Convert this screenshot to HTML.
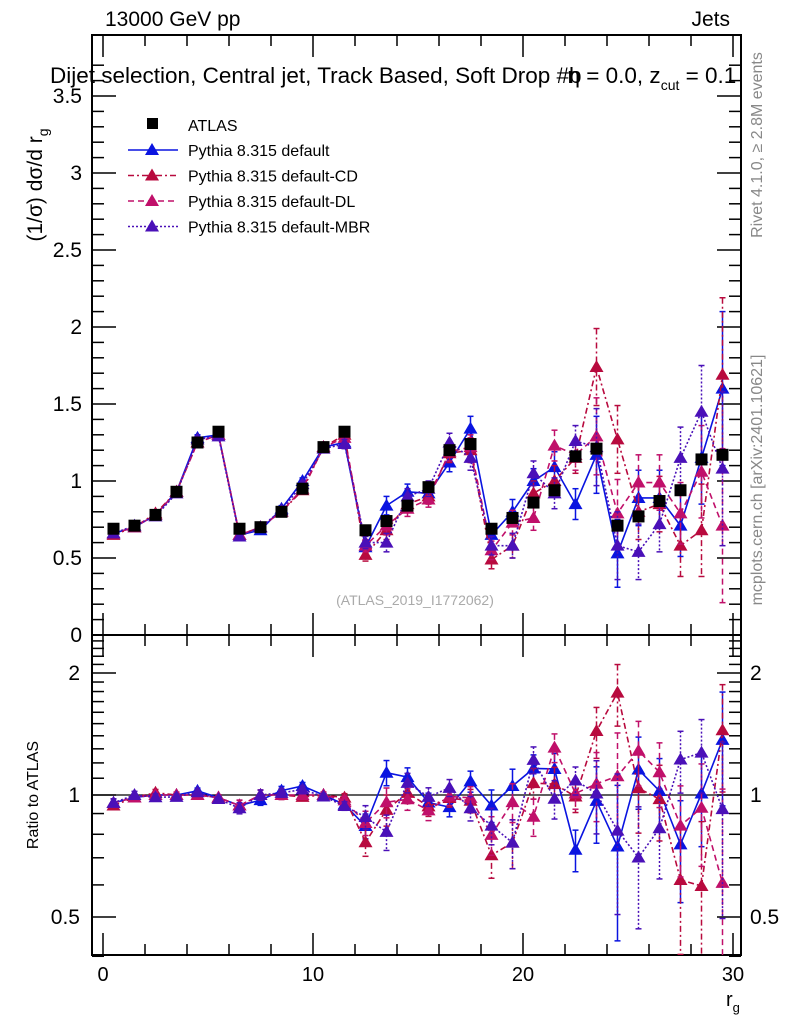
<!DOCTYPE html>
<html><head><meta charset="utf-8"><style>
html,body{margin:0;padding:0;background:#fff;overflow:hidden}
svg{display:block}
svg text{font-family:"Liberation Sans",sans-serif}
</style></head><body>
<svg id="c" width="786" height="1024" xmlns="http://www.w3.org/2000/svg"></svg>
<script>
const bins=[0.5,1.5,2.5,3.5,4.5,5.5,6.5,7.5,8.5,9.5,10.5,11.5,12.5,13.5,14.5,15.5,16.5,17.5,18.5,19.5,20.5,21.5,22.5,23.5,24.5,25.5,26.5,27.5,28.5,29.5];
const atlas=[0.69,0.71,0.78,0.93,1.25,1.32,0.69,0.70,0.80,0.95,1.22,1.32,0.68,0.74,0.84,0.96,1.20,1.24,0.69,0.76,0.86,0.94,1.16,1.21,0.71,0.77,0.87,0.94,1.14,1.17];
const atlasErr=[0.01,0.01,0.01,0.01,0.01,0.01,0.01,0.01,0.01,0.01,0.01,0.01,0.01,0.01,0.01,0.01,0.01,0.01,0.02,0.02,0.02,0.02,0.02,0.02,0.02,0.02,0.02,0.02,0.02,0.02];
const pyDefault=[0.66,0.70,0.78,0.93,1.28,1.30,0.65,0.68,0.82,1.00,1.22,1.25,0.57,0.84,0.93,0.92,1.12,1.34,0.65,0.80,1.00,1.09,0.85,1.17,0.53,0.89,0.89,0.71,1.15,1.60];
const pyCD=[0.65,0.70,0.79,0.93,1.25,1.30,0.65,0.70,0.80,0.94,1.22,1.30,0.52,0.68,0.85,0.90,1.18,1.20,0.49,0.58,0.92,1.00,1.15,1.74,1.27,0.80,0.85,0.58,0.68,1.69];
const pyDL=[0.66,0.70,0.78,0.93,1.25,1.30,0.65,0.70,0.80,0.95,1.22,1.28,0.58,0.71,0.82,0.88,1.19,1.22,0.55,0.73,0.76,1.23,1.17,1.29,0.79,0.99,0.99,0.79,1.06,0.71];
const pyMBR=[0.66,0.71,0.77,0.92,1.27,1.29,0.64,0.70,0.81,0.98,1.21,1.24,0.60,0.60,0.90,0.95,1.25,1.15,0.58,0.58,1.05,0.92,1.26,1.22,0.58,0.54,0.72,1.15,1.45,1.08];
const mcErr=[0.015,0.015,0.015,0.015,0.02,0.02,0.02,0.02,0.02,0.02,0.02,0.03,0.04,0.06,0.05,0.05,0.06,0.08,0.06,0.08,0.08,0.1,0.1,0.25,0.22,0.18,0.18,0.2,0.3,0.5];
const xTicks=[0,10,20,30];
const yTicks=[0,0.5,1,1.5,2,2.5,3,3.5];
const rTicks=[0.5,1,2];

const S=document.getElementById('c');const NS='http://www.w3.org/2000/svg';
function el(t,a,p){const e=document.createElementNS(NS,t);for(const k in a)e.setAttribute(k,a[k]);(p||S).appendChild(e);return e;}
const L=92,R=741,T=35,M=635,B=955;
const X=v=>103+v*21;
const Y=v=>635-v*154;
const YR=v=>795-Math.log2(v)*122;
const clipM=el('clipPath',{id:'cm'});el('rect',{x:L,y:T,width:R-L,height:M-T},clipM);
const clipR=el('clipPath',{id:'cr'});el('rect',{x:L,y:M,width:R-L,height:B-M},clipR);

function txt(x,y,s,o){const t=el('text',Object.assign({x:x,y:y,'font-size':19},o||{}));t.textContent=s;return t;}
let f=el('rect',{x:L,y:T,width:R-L,height:M-T,fill:'none',stroke:'#000','stroke-width':2});

f=el('rect',{x:L,y:M,width:R-L,height:B-M,fill:'none',stroke:'#000','stroke-width':2});

for(let v=0;v<=30;v+=2){const big=v%10==0;
 el('line',{x1:X(v),x2:X(v),y1:M,y2:M-(big?22:11),stroke:'#000','stroke-width':1.5});
 el('line',{x1:X(v),x2:X(v),y1:T,y2:T+(big?22:11),stroke:'#000','stroke-width':1.5});
 el('line',{x1:X(v),x2:X(v),y1:B,y2:B-(big?22:11),stroke:'#000','stroke-width':1.5});
 el('line',{x1:X(v),x2:X(v),y1:M,y2:M+(big?22:11),stroke:'#000','stroke-width':1.5});}
xTicks.forEach(v=>{const t=txt(X(v),981,String(v),{'text-anchor':'middle','font-size':20});
 });
for(let v=0;v<=3.75;v+=0.1){const y=Y(v);if(y<T)break;const big=Math.abs(v*2-Math.round(v*2))<1e-6;
 el('line',{x1:L,x2:L+(big?24:12),y1:y,y2:y,stroke:'#000','stroke-width':1.5});
 el('line',{x1:R,x2:R-(big?24:12),y1:y,y2:y,stroke:'#000','stroke-width':1.5});}
yTicks.forEach(v=>{const t=txt(82,Y(v)+7,String(v),{'text-anchor':'end','font-size':21});
 });
const rMinor=[0.4,0.5,0.6,0.7,0.8,0.9,1,1.1,1.2,1.3,1.4,1.5,1.6,1.7,1.8,1.9,2,2.1,2.2,2.3,2.4];
rMinor.forEach(v=>{const big=rTicks.includes(v);const y=YR(v);
 el('line',{x1:L,x2:L+(big?24:12),y1:y,y2:y,stroke:'#000','stroke-width':1.5});
 el('line',{x1:R,x2:R-(big?24:12),y1:y,y2:y,stroke:'#000','stroke-width':1.5});});
rTicks.forEach(v=>{let t=txt(80,YR(v)+7,String(v),{'text-anchor':'end','font-size':21});
 
 t=txt(750,YR(v)+7,String(v),{'font-size':21});
 });
el('line',{x1:L,x2:R,y1:YR(1),y2:YR(1),stroke:'#000','stroke-width':1.2});

const series=[
 {name:'pythia-default',vals:pyDefault,color:'#0a14e0',dash:'',label:'Pythia 8.315 default'},
 {name:'pythia-default-cd',vals:pyCD,color:'#b80a3e',dash:'6,3,2,3',label:'Pythia 8.315 default-CD'},
 {name:'pythia-default-dl',vals:pyDL,color:'#c0106a',dash:'6,4',label:'Pythia 8.315 default-DL'},
 {name:'pythia-default-mbr',vals:pyMBR,color:'#4a10b8',dash:'2,2',label:'Pythia 8.315 default-MBR'}];
function tri(g,x,y,c){el('polygon',{points:`${x},${y-7} ${x-7},${y+5} ${x+7},${y+5}`,fill:c},g);}
series.forEach(s=>{
 [[Y,'cm',v=>v,null],[YR,'cr',(v,i)=>v/atlas[i],1]].forEach(([yf,cl,tr,isR])=>{
  const g=el('g',{'clip-path':`url(#${cl})`});
  
  const pts=bins.map((b,i)=>X(b)+','+yf(tr(s.vals[i],i))).join(' ');
  el('polyline',{points:pts,fill:'none',stroke:s.color,'stroke-width':1.6,'stroke-dasharray':s.dash},g);
  bins.forEach((b,i)=>{const v=tr(s.vals[i],i);const e=isR?mcErr[i]/atlas[i]:mcErr[i];
   const y1=yf(v+e),y2=yf(Math.max(v-e,0.01));
   el('line',{x1:X(b),x2:X(b),y1:y1,y2:y2,stroke:s.color,'stroke-width':1.5,'stroke-dasharray':s.dash},g);
   el('line',{x1:X(b)-3,x2:X(b)+3,y1:y1,y2:y1,stroke:s.color,'stroke-width':1.5},g);
   el('line',{x1:X(b)-3,x2:X(b)+3,y1:y2,y2:y2,stroke:s.color,'stroke-width':1.5},g);
   tri(g,X(b),yf(v),s.color);});
 });
});
const ga=el('g',{'clip-path':'url(#cm)'});

bins.forEach((b,i)=>{el('line',{x1:X(b),x2:X(b),y1:Y(atlas[i]+atlasErr[i]),y2:Y(atlas[i]-atlasErr[i]),stroke:'#000','stroke-width':1.5},ga);
 el('rect',{x:X(b)-6,y:Y(atlas[i])-6,width:12,height:12,fill:'#000'},ga);});

const lg=el('g',{});
el('rect',{x:147,y:118,width:11,height:11,fill:'#000'},lg);
let t=txt(188,131,'ATLAS',{'font-size':16});lg.appendChild(t);
series.forEach((s,i)=>{const y=150+i*25.5;
 el('line',{x1:128,x2:178,y1:y,y2:y,stroke:s.color,'stroke-width':1.6,'stroke-dasharray':s.dash},lg);
 tri(lg,152,y,s.color);
 const tt=txt(188,y+6,s.label,{'font-size':16});lg.appendChild(tt);});

t=txt(105,26,'13000 GeV pp',{'font-size':21});
t=txt(730,26,'Jets',{'font-size':21,'text-anchor':'end'});
t=el('text',{x:50,y:83,'font-size':22.5});
t.innerHTML='Dijet selection, Central jet, Track Based, Soft Drop #b<tspan dx="-14">η = 0.0, z</tspan><tspan font-size="14" dy="7">cut</tspan><tspan dy="-7"> = 0.1</tspan>';
t=el('text',{transform:'translate(42,185) rotate(-90)','font-size':21,'text-anchor':'middle'});

t.innerHTML='(1/σ) dσ/d r<tspan font-size="14" dy="6">g</tspan>';
t=txt(0,0,'Ratio to ATLAS',{transform:'translate(38,795) rotate(-90)','font-size':16,'text-anchor':'middle'});

t=el('text',{x:726,y:1006,'font-size':20});
t.innerHTML='r<tspan font-size="13" dy="6">g</tspan>';
t=txt(415,605,'(ATLAS_2019_I1772062)',{'font-size':14,'text-anchor':'middle',fill:'#aaa'});

t=txt(0,0,'Rivet 4.1.0, ≥ 2.8M events',{transform:'translate(762,145) rotate(-90)','font-size':16,'text-anchor':'middle',fill:'#888'});

t=txt(0,0,'mcplots.cern.ch [arXiv:2401.10621]',{transform:'translate(762,480) rotate(-90)','font-size':16,'text-anchor':'middle',fill:'#888'});

</script>
</body></html>
